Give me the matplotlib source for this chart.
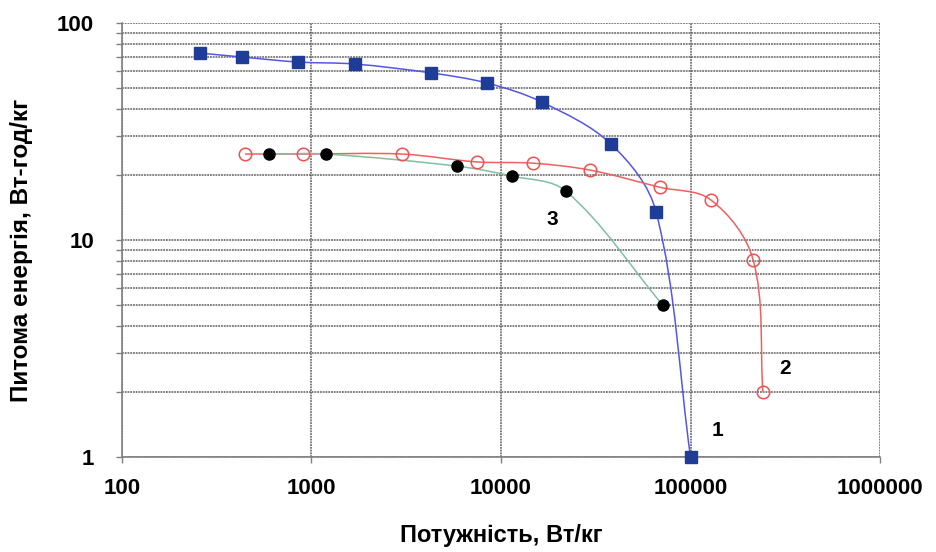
import numpy as np
import matplotlib
matplotlib.use('Agg')
import matplotlib.pyplot as plt
from matplotlib.path import Path
from matplotlib.patches import PathPatch
from matplotlib.ticker import LogLocator, NullFormatter

# series 1 (blue squares)
p1 = [258, 430, 849, 1700, 4270, 8430, 16450, 38000, 65800, 100000]
e1 = [72.7, 69.7, 66.1, 64.7, 58.9, 52.9, 43.2, 27.7, 13.5, 1.0]
# series 2 (red open circles)
p2 = [446, 900, 3000, 7470, 14750, 29500, 69000, 128000, 214000, 241000]
e2 = [24.9, 24.9, 24.9, 22.9, 22.6, 21.0, 17.5, 15.3, 8.1, 2.0]
# series 3 (black dots)
p3 = [597, 1190, 5860, 11430, 22000, 71600]
e3 = [24.9, 24.9, 21.9, 19.7, 16.8, 5.0]

labels = ['1', '2', '3']
label_pos = [(138000, 1.32), (315000, 2.55), (18600, 12.4)]

font = ['Liberation Sans', 'DejaVu Sans']


def smooth_path(x, y):
    # excel-like smoothed line, bezier tangents scaled by chord length
    # (roughly isotropic units: ~190 px per x decade, ~217 px per y decade)
    pts = np.column_stack([np.log10(x) * 190.0, np.log10(y) * 217.0])
    n = len(pts)
    tang = []
    for i in range(n):
        a = pts[max(i - 1, 0)]
        b = pts[min(i + 1, n - 1)]
        d = b - a
        tang.append(d / np.hypot(*d))
    verts = [pts[0]]
    codes = [Path.MOVETO]
    for i in range(n - 1):
        seg = np.hypot(*(pts[i + 1] - pts[i]))
        c1 = pts[i] + tang[i] * seg / 3.0
        c2 = pts[i + 1] - tang[i + 1] * seg / 3.0
        verts += [c1, c2, pts[i + 1]]
        codes += [Path.CURVE4] * 3
    verts = np.array(verts)
    verts = np.column_stack([10 ** (verts[:, 0] / 190.0), 10 ** (verts[:, 1] / 217.0)])
    return Path(verts, codes)


fig = plt.figure(figsize=(9.36, 5.52), dpi=100)
ax = fig.add_axes([0.1303, 0.1721, 0.8099, 0.7862])
ax.set_xscale('log')
ax.set_yscale('log')
ax.set_xlim(100, 1000000)
ax.set_ylim(1, 100)

# grid
ax.yaxis.set_minor_locator(LogLocator(base=10, subs=np.arange(2, 10)))
ax.yaxis.set_minor_formatter(NullFormatter())
ax.xaxis.set_minor_locator(LogLocator(base=10, subs=[]))
ax.grid(True, which='both', axis='y', color='#5e5e5e', lw=1.1, ls=(0, (1.2, 0.6)))
ax.grid(True, which='major', axis='x', color='#5e5e5e', lw=1.1, ls=(0, (1.2, 0.6)))
ax.set_axisbelow(True)

for s in ['top', 'right']:
    ax.spines[s].set_visible(False)
for s in ['left', 'bottom']:
    ax.spines[s].set_color('#808080')
    ax.spines[s].set_linewidth(1.2)
ax.tick_params(axis='both', which='both', color='#808080', length=4, width=1)
ax.tick_params(axis='x', which='major', pad=11)
ax.tick_params(axis='y', which='major', pad=16)

# curves
series = [(p1, e1, '#5555e6', dict(marker='s', ms=9, mfc='#1f3c96', mec='#1f3c96')),
          (p2, e2, '#f06060', dict(marker='o', ms=9, mfc='none', mec='#f05050', mew=1.1)),
          (p3, e3, '#80c0a0', dict(marker='o', ms=8, mfc='black', mec='black'))]
for x, y, lc, mk in series:
    ax.add_patch(PathPatch(smooth_path(x, y), fc='none', ec=lc, lw=1.1, zorder=3))
for x, y, lc, mk in series:
    ax.plot(x, y, ls='none', zorder=4, clip_on=False, **mk)

for lab, (lx, ly) in zip(labels, label_pos):
    ax.text(lx, ly, lab, fontsize=15, fontweight='bold', family=font, ha='center', va='center',
            bbox=dict(fc='white', ec='none', pad=3), zorder=5)

ax.set_xticks([100, 1000, 10000, 100000, 1000000])
ax.set_xticklabels(['100', '1000', '10000', '100000', '1000000'])
ax.set_yticks([1, 10, 100])
ax.set_yticklabels(['1', '10', '100'])
for t in ax.get_xticklabels() + ax.get_yticklabels():
    t.set_fontfamily(font)
    t.set_fontweight('bold')
    t.set_fontsize(16)

ax.set_xlabel('Потужність, Вт/кг', fontsize=17, fontweight='bold', family=font, labelpad=18)
ax.set_ylabel('Питома енергія, Вт-год/кг', fontsize=17.5, fontweight='bold', family=font)
ax.yaxis.set_label_coords(-0.118, 0.475)

fig.savefig('out.png', dpi=100)
